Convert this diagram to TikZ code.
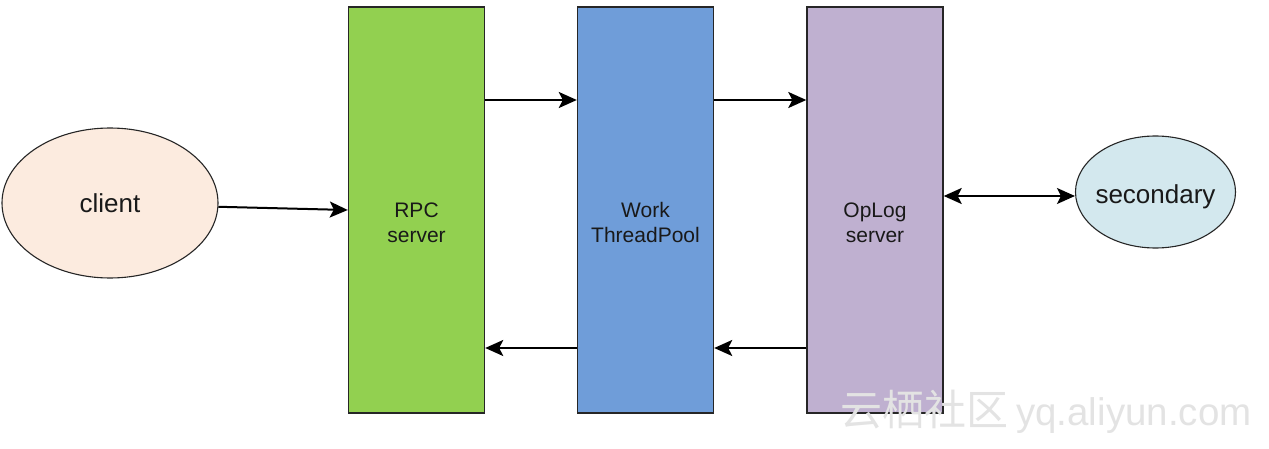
\documentclass[tikz,border=0pt]{standalone}
\usepackage{fontspec}
\setmainfont{Liberation Sans}
\newfontfamily\cjk{Noto Sans CJK SC}
\usetikzlibrary{arrows.meta,shapes.geometric}
\definecolor{rpcgreen}{HTML}{92D050}
\definecolor{workblue}{HTML}{6F9DD9}
\definecolor{oplogpurple}{HTML}{BFB0D0}
\definecolor{clientfill}{HTML}{FCEBDF}
\definecolor{secfill}{HTML}{D3E8EE}
\tikzset{
  stagebox/.style={draw=black!85, line width=1.4pt, minimum width=136pt, minimum height=406pt, inner sep=0pt},
  stagelabel/.style={align=center, inner sep=0pt, text=black!90, font=\fontsize{21}{25}\selectfont},
  endpoint/.style={ellipse, draw=black!85, line width=1.1pt, inner sep=0pt},
  endlabel/.style={inner sep=0pt, anchor=base, text=black!90, font=\fontsize{26}{30}\selectfont},
  tip/.tip={Stealth[length=18pt,width=16pt,inset=4pt]},
  flow/.style={line width=2pt, -tip},
  bothflow/.style={line width=2pt, tip-tip},
  marktext/.style={text=black!11, inner sep=0pt, anchor=base west}
}
\begin{document}
\begin{tikzpicture}[x=1pt,y=1pt]
\useasboundingbox (0,0) rectangle (1269,448);
\fill[white] (0,0) rectangle (1269,448);
% stage boxes
\node[stagebox, fill=rpcgreen] (rpc) at (416.5,238) {};
\node[stagebox, fill=workblue] (work) at (645.5,238) {};
\node[stagebox, fill=oplogpurple] (oplog) at (875,238) {};
\node[stagelabel] (rpcl) at (416.5,225.5) {RPC\\server};
\node[stagelabel] (workl) at (645.5,225.5) {Work\\ThreadPool};
\node[stagelabel] (oplogl) at (875,225.5) {OpLog\\server};
% ellipses
\node[endpoint, fill=clientfill, minimum width=216pt, minimum height=150pt] (client) at (110,245) {};
\node[endpoint, fill=secfill, minimum width=160pt, minimum height=112pt] (secondary) at (1155.5,256) {};
\node[endlabel] (clientl) at (110,236) {client};
\node[endlabel] (secondaryl) at (1155.5,245) {secondary};
% connectors
\draw[flow] (client.-2.6) -- (rpc.west |- 0,238);
\draw[flow] (rpc.east |- 0,348) -- (work.west |- 0,348);
\draw[flow] (work.east |- 0,348) -- (oplog.west |- 0,348);
\draw[flow] (work.west |- 0,100) -- (rpc.east |- 0,100);
\draw[flow] (oplog.west |- 0,100) -- (work.east |- 0,100);
\draw[bothflow] (oplog.east |- 0,252) -- (secondary.west |- 0,252);
% watermark
\node[marktext] (wm) at (840,23) {{\cjk\fontsize{42}{44}\selectfont 云栖社区}\hspace{8pt}{\fontsize{38.5}{40}\selectfont yq.aliyun.com}};
\end{tikzpicture}
\end{document}
